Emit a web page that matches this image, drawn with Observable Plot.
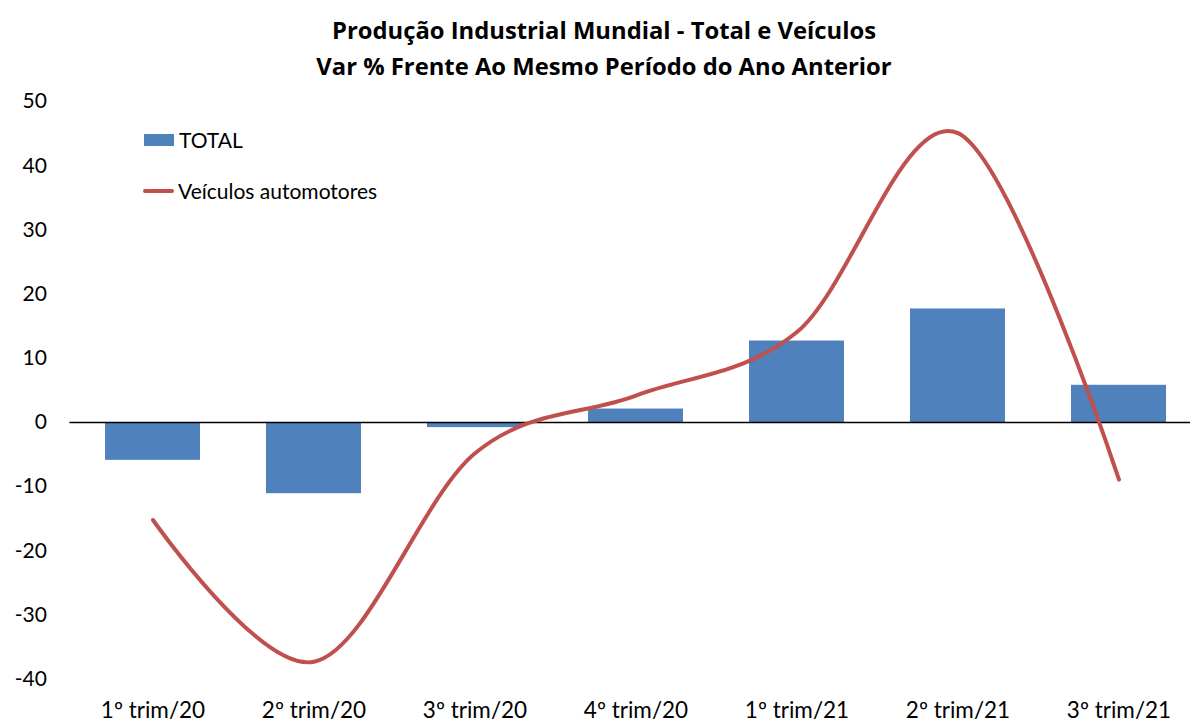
<!DOCTYPE html>
<html>
<head>
<meta charset="utf-8">
<script src="https://cdn.jsdelivr.net/npm/d3@7"></script>
<script src="https://cdn.jsdelivr.net/npm/@observablehq/plot@0.6"></script>
<style>
  html, body { margin: 0; padding: 0; background: #fff; overflow: hidden; }
  #wrap { position: relative; width: 1190px; height: 722px; font-family: Lato, "Open Sans", sans-serif; }
  #title { height: 74px; padding-top: 12px; text-align: center; font-family: "Open Sans", Lato, sans-serif; font-weight: bold; font-size: 23.8px; line-height: 36px; color: #000; padding-left: 18px; }
  .legend { position: absolute; display: flex; align-items: center; font-size: 21px; color: #000; }
  .sw-bar { width: 30px; height: 12px; background: #4F81BD; margin-right: 5px; }
  .sw-line { width: 31px; height: 4px; border-radius: 2px; background: #C0504D; margin-right: 4px; }
</style>
</head>
<body>
<div id="wrap">
  <div id="title">Produção Industrial Mundial - Total e Veículos<br>Var % Frente Ao Mesmo Período do Ano Anterior</div>
  <div id="chart"></div>
  <div class="legend" style="left:144px; top:127px;"><div class="sw-bar"></div><span>TOTAL</span></div>
  <div class="legend" style="left:143px; top:178px;"><div class="sw-line"></div><span>Veículos automotores</span></div>
</div>
<script>
const categories = ["1º trim/20","2º trim/20","3º trim/20","4º trim/20","1º trim/21","2º trim/21","3º trim/21"];
const totalValues = [-5.9, -11.1, -0.8, 2.1, 12.7, 17.7, 5.8];
const veiculosValues = [-15.2, -37.3, -4.8, 4.2, 14.1, 45.1, -8.9];
const yTicks = [-40, -30, -20, -10, 0, 10, 20, 30, 40, 50];

const data = categories.map((c, i) => ({cat: c, total: totalValues[i], veic: veiculosValues[i]}));

const chart = Plot.plot({
  width: 1190,
  height: 636,
  marginLeft: 69.4,
  marginRight: -11.3,
  marginTop: 15.25,
  marginBottom: 43.4,
  style: {fontFamily: "Lato, 'Open Sans', sans-serif", fontSize: "21px", color: "#000", overflow: "visible"},
  x: {domain: categories, paddingInner: 0.41, paddingOuter: 0.205, label: null, tickSize: 0, tickPadding: 23},
  y: {domain: [-40, 50], ticks: yTicks, label: null, tickSize: 0, tickPadding: 23, tickFormat: d => String(d).replace("−", "-")},
  marks: [
    Plot.barY(data, {x: "cat", y: "total", fill: "#4F81BD"}),
    Plot.ruleY([0], {stroke: "#000", strokeWidth: 1.5}),
    Plot.line(data, {x: "cat", y: "veic", stroke: "#C0504D", strokeWidth: 4, curve: "cardinal", strokeLinecap: "round"})
  ]
});
chart.querySelectorAll("[aria-label='x-axis tick label'] text").forEach(t => t.style.fontSize = "22.5px");
document.getElementById("chart").appendChild(chart);
</script>
</body>
</html>
